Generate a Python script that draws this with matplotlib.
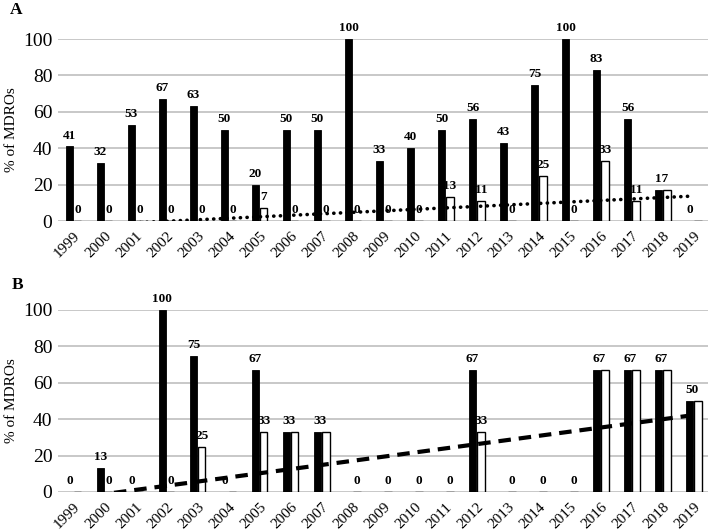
import numpy as np
import matplotlib
matplotlib.use("Agg")
import matplotlib.pyplot as plt

years = [str(y) for y in range(1999, 2020)]

black_A = [41, 32, 53, 67, 63, 50, 20, 50, 50, 100, 33, 40, 50, 56, 43, 75, 100, 83, 56, 17, 0]
white_A = [0, 0, 0, 0, 0, 0, 7, 0, 0, 0, 0, 0, 13, 11, 0, 25, 0, 33, 11, 17, 0]
# which data labels are shown: b = black only, w = white only, both, c = one centred label
labels_A = ['both'] * 19 + ['c', 'b']

black_B = [0, 13, 0, 100, 75, 0, 67, 33, 33, 0, 0, 0, 0, 67, 0, 0, 0, 67, 67, 67, 50]
white_B = [0, 0, 0, 0, 25, 0, 33, 33, 33, 0, 0, 0, 0, 33, 0, 0, 0, 67, 67, 67, 50]
labels_B = ['b', 'both', 'b', 'both', 'both', 'b', 'both', 'c', 'c',
            'w', 'w', 'w', 'w', 'both', 'w', 'w', 'w', 'c', 'c', 'c', 'c']

yticks = [0, 20, 40, 60, 80, 100]

plt.rcParams['font.family'] = ['Liberation Serif', 'DejaVu Serif']

fig = plt.figure(figsize=(7.08, 5.30), dpi=100)
W, H = 708, 530


def panel(rect, black, white, labs, trend_style):
    ax = fig.add_axes(rect)
    x = np.arange(len(years))
    off = 0.135
    w = 0.235
    ax.bar(x - off, black, width=w, color='black', edgecolor='black', linewidth=0.6, zorder=3)
    ax.bar(x + off, white, width=w, color='white', edgecolor='black', linewidth=1.0, zorder=3)
    kw = dict(textcoords='offset points', ha='center', va='bottom',
              fontsize=9.5, fontweight='bold', zorder=5, annotation_clip=False)
    for i, lab in enumerate(labs):
        if lab in ('b', 'both'):
            ax.annotate(str(black[i]), (x[i] - off, black[i]), xytext=(0, 3.5), **kw)
        if lab in ('w', 'both'):
            ax.annotate(str(white[i]), (x[i] + off, white[i]), xytext=(0, 3.5), **kw)
        if lab == 'c':
            ax.annotate(str(black[i]), (x[i] - 0.05, max(black[i], white[i])), xytext=(0, 3.5), **kw)
    # linear trendline of white series
    coef = np.polyfit(x, np.array(white, dtype=float), 1)
    xt = np.linspace(0, len(years) - 1, 200)
    ax.plot(xt, np.polyval(coef, xt), color='black', zorder=4, **trend_style)

    ax.set_xlim(-0.5, len(years) - 0.5)
    ax.set_ylim(0, 100)
    ax.set_yticks(yticks)
    ax.set_yticklabels([str(t) for t in yticks], fontsize=14)
    ax.set_xticks(x)
    ax.set_xticklabels(years, rotation=45, ha='right', rotation_mode='anchor', fontsize=11)
    ax.tick_params(axis='both', length=0)
    ax.tick_params(axis='y', pad=4)
    ax.tick_params(axis='x', pad=6)
    ax.grid(axis='y', color='#c4c4c4', linewidth=1.3, zorder=0)
    ax.set_axisbelow(True)
    for s in ax.spines.values():
        s.set_visible(False)
    ax.set_ylabel('% of MDROs', fontsize=11)
    ax.yaxis.set_label_coords(-0.062, 0.5)
    return ax


left = 58 / W
width = 1.0 - left + 0.002
axA = panel([left, 1 - 221 / H, width, 182 / H], black_A, white_A, labels_A,
            dict(linestyle=(0, (0.05, 1.8)), linewidth=2.6, dash_capstyle='round'))
axB = panel([left, 1 - 492 / H, width, 182 / H], black_B, white_B, labels_B,
            dict(linestyle=(0, (3.0, 1.9)), linewidth=3.0, dash_capstyle='butt'))

fig.text(10 / W, 1 - 14 / H, 'A', fontsize=12.5, fontweight='bold')
fig.text(12 / W, 1 - 289 / H, 'B', fontsize=12.5, fontweight='bold')

fig.savefig('out.png', dpi=100)
